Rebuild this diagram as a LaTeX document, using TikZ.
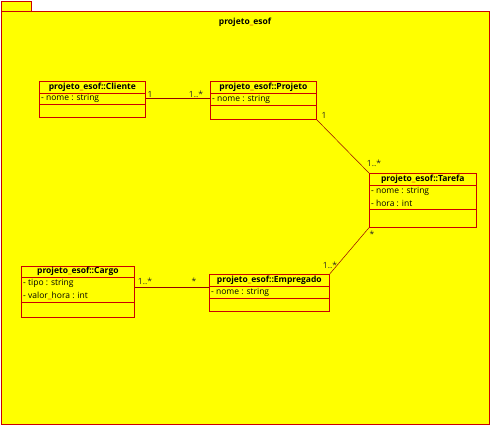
\documentclass[tikz,border=0pt]{standalone}
\usepackage{fontspec}
\setmainfont{Open Sans}
\definecolor{pkgfill}{RGB}{255,255,0}
\definecolor{bred}{RGB}{204,0,0}
\definecolor{lred}{RGB}{150,0,0}
\definecolor{ured}{RGB}{220,60,0}
\newcommand\us{\textcolor{ured}{\_}}
\tikzset{
  pkg/.style={draw=bred, fill=pkgfill, line width=0.7pt},
  cbox/.style={draw=bred, fill=pkgfill, line width=0.7pt, inner sep=0pt, anchor=north west},
  sep/.style={draw=bred, line width=0.7pt},
  ctitle/.style={font=\fontsize{8.5}{9}\selectfont\bfseries, inner sep=0pt},
  attr/.style={font=\fontsize{8.5}{9}\selectfont, inner sep=0pt, anchor=west},
  mult/.style={font=\fontsize{8.5}{9}\selectfont, inner sep=0pt, text=black!85},
  assoc/.style={draw=lred, line width=0.5pt}
}
\begin{document}
\begin{tikzpicture}[x=1pt,y=-1pt]
\useasboundingbox (0,0) rectangle (490,426);
% package
\draw[pkg] (1,1) rectangle (31,11);
\draw[pkg] (1,11) rectangle (489,424);
\node[ctitle] (ptitle) at (245,22) {projeto\us esof};

% Cliente
\node[cbox, minimum width=106pt, minimum height=36pt] (cliente) at (39,81) {};
\draw[sep] ([yshift=-12pt]cliente.north west) -- ([yshift=-12pt]cliente.north east);
\draw[sep] ([yshift=-23pt]cliente.north west) -- ([yshift=-23pt]cliente.north east);
\node[ctitle] (clienteT) at ([yshift=-6pt]cliente.north) {projeto\us esof::Cliente};
\node[attr] (clienteA) at ([xshift=2pt,yshift=-17.5pt]cliente.north west) {- nome : string};

% Projeto
\node[cbox, minimum width=106pt, minimum height=38pt] (projeto) at (210,81) {};
\draw[sep] ([yshift=-12pt]projeto.north west) -- ([yshift=-12pt]projeto.north east);
\draw[sep] ([yshift=-24pt]projeto.north west) -- ([yshift=-24pt]projeto.north east);
\node[ctitle] (projetoT) at ([yshift=-6pt]projeto.north) {projeto\us esof::Projeto};
\node[attr] (projetoA) at ([xshift=2pt,yshift=-18pt]projeto.north west) {- nome : string};

% Tarefa
\node[cbox, minimum width=107pt, minimum height=54pt] (tarefa) at (369,173) {};
\draw[sep] ([yshift=-12pt]tarefa.north west) -- ([yshift=-12pt]tarefa.north east);
\draw[sep] ([yshift=-36pt]tarefa.north west) -- ([yshift=-36pt]tarefa.north east);
\node[ctitle] (tarefaT) at ([yshift=-6pt]tarefa.north) {projeto\us esof::Tarefa};
\node[attr] (tarefaA) at ([xshift=2pt,yshift=-18pt]tarefa.north west) {- nome : string};
\node[attr] (tarefaB) at ([xshift=2pt,yshift=-30pt]tarefa.north west) {- hora : int};

% Cargo
\node[cbox, minimum width=113pt, minimum height=51pt] (cargo) at (21,266) {};
\draw[sep] ([yshift=-11pt]cargo.north west) -- ([yshift=-11pt]cargo.north east);
\draw[sep] ([yshift=-36pt]cargo.north west) -- ([yshift=-36pt]cargo.north east);
\node[ctitle] (cargoT) at ([yshift=-5.5pt]cargo.north) {projeto\us esof::Cargo};
\node[attr] (cargoA) at ([xshift=2pt,yshift=-17.5pt]cargo.north west) {- tipo : string};
\node[attr] (cargoB) at ([xshift=2pt,yshift=-29.5pt]cargo.north west) {- valor\us hora : int};

% Empregado
\node[cbox, minimum width=120pt, minimum height=37pt] (empregado) at (209,274) {};
\draw[sep] ([yshift=-12pt]empregado.north west) -- ([yshift=-12pt]empregado.north east);
\draw[sep] ([yshift=-24pt]empregado.north west) -- ([yshift=-24pt]empregado.north east);
\node[ctitle] (empregadoT) at ([yshift=-6pt]empregado.north) {projeto\us esof::Empregado};
\node[attr] (empregadoA) at ([xshift=2pt,yshift=-18pt]empregado.north west) {- nome : string};

% associations
\coordinate (c1) at ([yshift=-17.7pt]cliente.north east);
\draw[assoc] (c1) -- (c1 -| projeto.west);
\draw[assoc] (projeto.south east) -- (tarefa.north west);
\draw[assoc] (tarefa.south west) -- (empregado.north east);
\coordinate (c2) at ([yshift=-21pt]cargo.north east);
\draw[assoc] (c2) -- (c2 -| empregado.west);

% multiplicities
\node[mult] (m1) at (150,94) {1};
\node[mult] (m2) at (196,94) {1..*};
\node[mult] (m3) at (324,115) {1};
\node[mult] (m4) at (374,163) {1..*};
\node[mult] (m5) at (372,234) {*};
\node[mult] (m6) at (330,265) {1..*};
\node[mult] (m7) at (145,281) {1..*};
\node[mult] (m8) at (194,281) {*};
\end{tikzpicture}
\end{document}
